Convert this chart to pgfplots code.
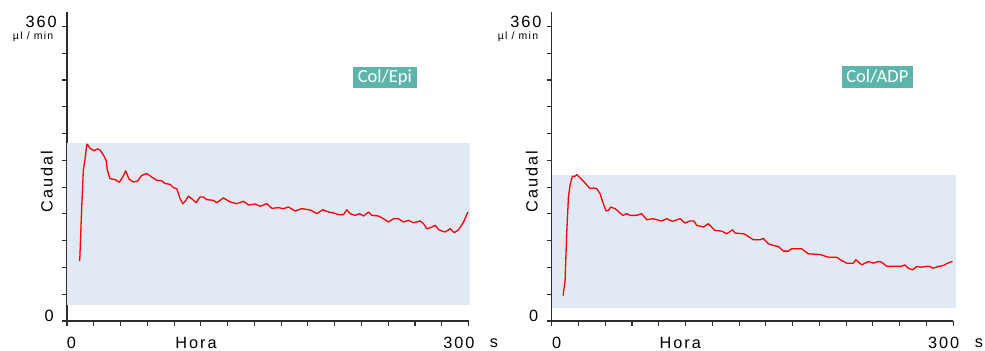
\documentclass[border=0pt]{standalone}
\usepackage{pgfplots}
\pgfplotsset{compat=1.18}
\usepackage{fontspec}
\setmainfont{Liberation Sans}[LetterSpace=12]
\newfontfamily\boxfont{Carlito}

\definecolor{band}{RGB}{224,233,244}
\definecolor{tagteal}{RGB}{92,181,170}
\definecolor{axisgray}{RGB}{45,45,45}

% tick positions: eleven equal steps between 0 and 360
\def\yticklist{0,32.727,65.455,98.182,130.909,163.636,196.364,229.091,261.818,294.545,327.273,360}

\pgfplotsset{
  flowaxis/.style={
    scale only axis,
    width=401.5bp, height=309.3bp,
    xmin=0, xmax=300, ymin=0, ymax=378,
    axis x line*=bottom, axis y line*=left,
    axis line style={axisgray, line width=1.2bp, -},
    xtick={0,20,...,300}, xticklabels={},
    ytick=\yticklist, yticklabels={},
    tick align=outside, major tick length=5bp,
    tick style={axisgray, line width=1.1bp},
    clip=false,
  },
}

\newcommand{\numfont}{\fontsize{16.3bp}{18bp}\selectfont}
\newcommand{\unitfont}{\fontsize{10.5bp}{12bp}\selectfont}
\newcommand{\tagfont}{\boxfont\fontsize{18.5bp}{20bp}\selectfont}

\begin{document}
\begin{tikzpicture}[x=1bp,y=1bp]
\useasboundingbox (0,0) rectangle (985,350);

% ---------- Col/Epi ----------
\begin{axis}[flowaxis, at={(67bp,29bp)}, anchor=origin]
\addplot[fill=band, draw=none] coordinates {(0,20) (301,20) (301,217) (0,217)} -- cycle;
\addplot[red, line width=1.3bp, line join=round] coordinates {
(9.5,73.1) (11,139) (12.2,184) (13.7,200.6) (14.7,215) (15.2,216)
(17.2,211) (20.4,208) (22.7,210.4) (24.7,209) (27.2,202.7) (29.2,196.5)
(30.2,184) (32.1,174) (35.9,172.8) (39.1,169.6) (41.6,176) (43.9,183.5)
(46.4,173.2) (49.6,170) (52.6,170.8) (55.8,178) (59.6,180.2) (63.3,176)
(67,172) (70.8,171.2) (73.3,168) (77,167) (79.5,163) (82,161.8)
(84.5,149.5) (86.5,143.4) (88.2,146) (90.7,152.4) (93.2,149.5) (96.4,144.6)
(99.4,151.6) (101.9,151.6) (104.4,148.3) (109.4,147.5) (111.9,144.6)
(116.9,150.4) (121.9,145.5) (126.8,143.4) (131.9,146.3) (135.6,141.8)
(140.6,143) (144.3,140.2) (149.3,143.4) (153,137.7) (158,138.5)
(161.7,137.3) (165.5,139.3) (170.4,134.4) (175.4,137.3) (181.7,135.7)
(186.7,131.2) (191.1,136) (195.4,133.2) (199.1,132) (202.9,130)
(206.6,130) (209.1,136) (211.6,131.2) (215.3,129.1) (218.6,131.2)
(221.6,128.3) (225.3,133.2) (227.8,129.1) (232.8,128.3) (236.5,125)
(240.2,121) (244,125) (247.7,125) (251.4,121) (255.2,123) (258.9,120.1)
(263.9,122.2) (266.4,118.9) (268.9,112.8) (271.4,114) (275.2,116.9)
(277.7,111.5) (282.6,108.7) (286.3,112.8) (289.3,107.9) (292.6,111.5)
(296.3,121) (299.5,133.2)
};
\end{axis}

% ---------- Col/ADP ----------
\begin{axis}[flowaxis, at={(551.7bp,29bp)}, anchor=origin]
\addplot[fill=band, draw=none] coordinates {(0,16) (302,16) (302,179) (0,179)} -- cycle;
\addplot[red, line width=1.3bp, line join=round] coordinates {
(8.5,31.1) (10,49.4) (11.2,106.6) (12.5,151.6) (13.7,165.9) (15.4,176.9)
(17.4,176.9) (18.7,179) (21.2,174.9) (24.9,168.7) (28.6,161.8) (31.1,162.6)
(33.6,161.8) (36.1,155.7) (38.1,145.5) (40.6,134.4) (42.3,135.2) (44.1,139.3)
(47.3,137.3) (49.8,134) (53,129.1) (56,131.2) (58.5,129.1) (63.5,129.1)
(67.2,131.2) (71,123.8) (75.9,125) (78.4,123.8) (82.2,122.2) (85.9,125)
(90.4,121.8) (95.9,125) (99.6,119.7) (103.3,122.2) (106.3,122.2)
(108.3,116.9) (113.3,114.8) (117,118.9) (119.5,114.8) (122,110.7)
(127,109.9) (130.7,106.6) (135.2,111.5) (136.9,107.5) (143.2,106.6)
(145.7,104.6) (150.6,99.3) (155.6,99.3) (158.1,100.9) (161.9,94.4)
(165.6,92.3) (169.3,91.1) (173.1,85.4) (176.8,85.4) (179.3,88.3)
(186.8,88.3) (191.7,82.1) (200.4,81.3) (206.7,78) (212.9,78) (216.6,74)
(220.4,70.7) (225.3,70.7) (227.3,74.8) (231.6,68.6) (236.6,72.7)
(240.3,70.7) (244,72.7) (246.5,71.9) (250.2,67) (256.4,67) (261.5,67)
(263.9,68.6) (266.4,64.6) (269.7,62.5) (272.7,66.6) (276.4,65.8)
(281.4,67) (285.1,64.6) (288.8,66.6) (292.6,67.8) (296.3,71.1) (299.5,72.7)
};
\end{axis}

% ---------- labels, left panel ----------
\node[anchor=east, inner sep=0pt, font=\numfont] at (57,328.3) {360};
\node[anchor=east, inner sep=0pt, font=\unitfont] at (53.5,313.3) {µl / min};
\node[anchor=east, inner sep=0pt, font=\numfont] at (54,34) {0};
\node[inner sep=0pt, font=\numfont] at (71.5,7.2) {0};
\node[inner sep=0pt, font=\numfont] at (196,7.2) {Hora};
\node[inner sep=0pt, font=\numfont] at (459,7.2) {300};
\node[inner sep=0pt, font=\numfont] at (494,7.2) {s};
\node[rotate=90, inner sep=0pt, font=\numfont] at (46.7,168.3) {Caudal};
\node[fill=tagteal, text=white, minimum width=63.7bp, minimum height=21bp, inner sep=0pt,
      font=\tagfont] at (384.8,272.8) {Col/Epi};

% ---------- labels, right panel ----------
\node[anchor=east, inner sep=0pt, font=\numfont] at (541.7,328.3) {360};
\node[anchor=east, inner sep=0pt, font=\unitfont] at (538.3,313.3) {µl / min};
\node[anchor=east, inner sep=0pt, font=\numfont] at (538.3,34) {0};
\node[inner sep=0pt, font=\numfont] at (556.7,7.2) {0};
\node[inner sep=0pt, font=\numfont] at (680.3,7.2) {Hora};
\node[inner sep=0pt, font=\numfont] at (943.7,7.2) {300};
\node[inner sep=0pt, font=\numfont] at (979,7.2) {s};
\node[rotate=90, inner sep=0pt, font=\numfont] at (531.7,168.3) {Caudal};
\node[fill=tagteal, text=white, minimum width=70.7bp, minimum height=21.7bp, inner sep=0pt,
      font=\tagfont] at (877.3,273.2) {Col/ADP};
\end{tikzpicture}
\end{document}
